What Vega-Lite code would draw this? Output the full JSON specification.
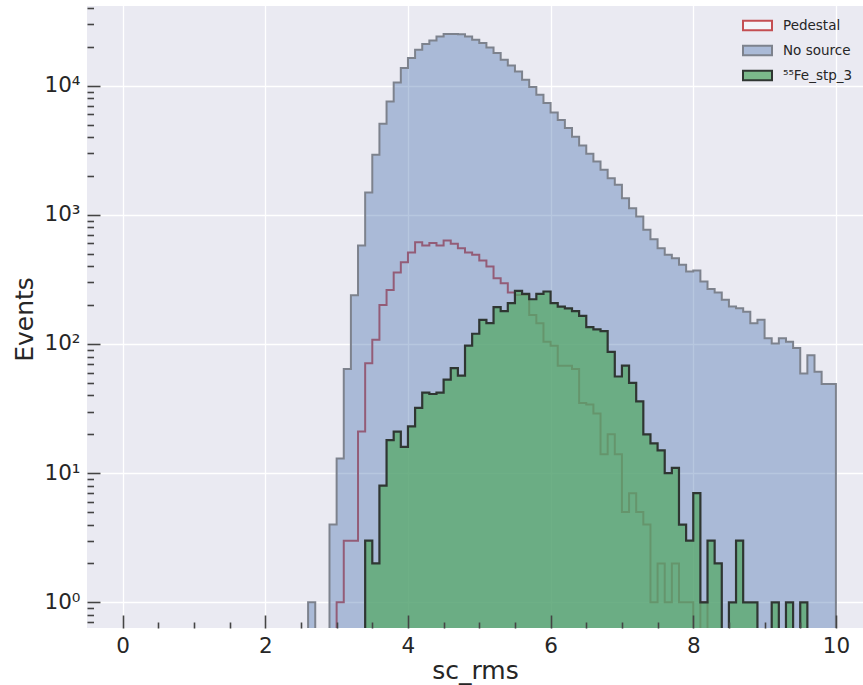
{
  "$schema": "https://vega.github.io/schema/vega-lite/v6.json",
  "width": 776,
  "height": 622,
  "autosize": "none",
  "padding": {"left": 87, "top": 6, "right": 0, "bottom": 57},
  "background": "white",
  "config": {"font": "DejaVu Sans", "view": {"fill": "#EAEAF2", "stroke": null}},
  "datasets": {
    "h": [
      {"s":"No source","x":2.5,"n":0},{"s":"No source","x":2.6,"n":1},{"s":"No source","x":2.7,"n":0},{"s":"No source","x":2.8,"n":0},{"s":"No source","x":2.9,"n":4},{"s":"No source","x":3.0,"n":13},{"s":"No source","x":3.1,"n":64},{"s":"No source","x":3.2,"n":239},{"s":"No source","x":3.3,"n":580},{"s":"No source","x":3.4,"n":1489},{"s":"No source","x":3.5,"n":2917},{"s":"No source","x":3.6,"n":5070},{"s":"No source","x":3.7,"n":7550},{"s":"No source","x":3.8,"n":10590},{"s":"No source","x":3.9,"n":13680},{"s":"No source","x":4.0,"n":16360},{"s":"No source","x":4.1,"n":18970},{"s":"No source","x":4.2,"n":21000},{"s":"No source","x":4.3,"n":22390},{"s":"No source","x":4.4,"n":24050},{"s":"No source","x":4.5,"n":25100},{"s":"No source","x":4.6,"n":25150},{"s":"No source","x":4.7,"n":25050},{"s":"No source","x":4.8,"n":24050},{"s":"No source","x":4.9,"n":22680},{"s":"No source","x":5.0,"n":21380},{"s":"No source","x":5.1,"n":19770},{"s":"No source","x":5.2,"n":17900},{"s":"No source","x":5.3,"n":15880},{"s":"No source","x":5.4,"n":14330},{"s":"No source","x":5.5,"n":12880},{"s":"No source","x":5.6,"n":11110},{"s":"No source","x":5.7,"n":9750},{"s":"No source","x":5.8,"n":8510},{"s":"No source","x":5.9,"n":7330},{"s":"No source","x":6.0,"n":6200},{"s":"No source","x":6.1,"n":5420},{"s":"No source","x":6.2,"n":4700},{"s":"No source","x":6.3,"n":4020},{"s":"No source","x":6.4,"n":3440},{"s":"No source","x":6.5,"n":2970},{"s":"No source","x":6.6,"n":2590},{"s":"No source","x":6.7,"n":2230},{"s":"No source","x":6.8,"n":1924},{"s":"No source","x":6.9,"n":1708},{"s":"No source","x":7.0,"n":1347},{"s":"No source","x":7.1,"n":1127},{"s":"No source","x":7.2,"n":970},{"s":"No source","x":7.3,"n":765},{"s":"No source","x":7.4,"n":648},{"s":"No source","x":7.5,"n":552},{"s":"No source","x":7.6,"n":490},{"s":"No source","x":7.7,"n":462},{"s":"No source","x":7.8,"n":410},{"s":"No source","x":7.9,"n":364},{"s":"No source","x":8.0,"n":371},{"s":"No source","x":8.1,"n":305},{"s":"No source","x":8.2,"n":266},{"s":"No source","x":8.3,"n":250},{"s":"No source","x":8.4,"n":220},{"s":"No source","x":8.5,"n":195},{"s":"No source","x":8.6,"n":189},{"s":"No source","x":8.7,"n":178},{"s":"No source","x":8.8,"n":145},{"s":"No source","x":8.9,"n":154},{"s":"No source","x":9.0,"n":111},{"s":"No source","x":9.1,"n":101},{"s":"No source","x":9.2,"n":111},{"s":"No source","x":9.3,"n":104},{"s":"No source","x":9.4,"n":93},{"s":"No source","x":9.5,"n":59},{"s":"No source","x":9.6,"n":82},{"s":"No source","x":9.7,"n":61},{"s":"No source","x":9.8,"n":49},{"s":"No source","x":9.9,"n":49},{"s":"No source","x":10.0,"n":0},
      {"s":"Pedestal","x":2.9,"n":0},{"s":"Pedestal","x":3.0,"n":1},{"s":"Pedestal","x":3.1,"n":3},{"s":"Pedestal","x":3.2,"n":3},{"s":"Pedestal","x":3.3,"n":21},{"s":"Pedestal","x":3.4,"n":71},{"s":"Pedestal","x":3.5,"n":108},{"s":"Pedestal","x":3.6,"n":200},{"s":"Pedestal","x":3.7,"n":262},{"s":"Pedestal","x":3.8,"n":357},{"s":"Pedestal","x":3.9,"n":430},{"s":"Pedestal","x":4.0,"n":511},{"s":"Pedestal","x":4.1,"n":614},{"s":"Pedestal","x":4.2,"n":578},{"s":"Pedestal","x":4.3,"n":604},{"s":"Pedestal","x":4.4,"n":578},{"s":"Pedestal","x":4.5,"n":632},{"s":"Pedestal","x":4.6,"n":596},{"s":"Pedestal","x":4.7,"n":552},{"s":"Pedestal","x":4.8,"n":511},{"s":"Pedestal","x":4.9,"n":490},{"s":"Pedestal","x":5.0,"n":443},{"s":"Pedestal","x":5.1,"n":398},{"s":"Pedestal","x":5.2,"n":323},{"s":"Pedestal","x":5.3,"n":296},{"s":"Pedestal","x":5.4,"n":250},{"s":"Pedestal","x":5.5,"n":240},{"s":"Pedestal","x":5.6,"n":240},{"s":"Pedestal","x":5.7,"n":168},{"s":"Pedestal","x":5.8,"n":145},{"s":"Pedestal","x":5.9,"n":104},{"s":"Pedestal","x":6.0,"n":97},{"s":"Pedestal","x":6.1,"n":68},{"s":"Pedestal","x":6.2,"n":68},{"s":"Pedestal","x":6.3,"n":64},{"s":"Pedestal","x":6.4,"n":35},{"s":"Pedestal","x":6.5,"n":34},{"s":"Pedestal","x":6.6,"n":29},{"s":"Pedestal","x":6.7,"n":14},{"s":"Pedestal","x":6.8,"n":20},{"s":"Pedestal","x":6.9,"n":14},{"s":"Pedestal","x":7.0,"n":5},{"s":"Pedestal","x":7.1,"n":7},{"s":"Pedestal","x":7.2,"n":5},{"s":"Pedestal","x":7.3,"n":4},{"s":"Pedestal","x":7.4,"n":1},{"s":"Pedestal","x":7.5,"n":2},{"s":"Pedestal","x":7.6,"n":1},{"s":"Pedestal","x":7.7,"n":2},{"s":"Pedestal","x":7.8,"n":1},{"s":"Pedestal","x":7.9,"n":1},{"s":"Pedestal","x":8.0,"n":0},{"s":"Pedestal","x":8.1,"n":1},{"s":"Pedestal","x":8.2,"n":0},
      {"s":"⁵⁵Fe_stp_3","x":3.3,"n":0},{"s":"⁵⁵Fe_stp_3","x":3.4,"n":3},{"s":"⁵⁵Fe_stp_3","x":3.5,"n":2},{"s":"⁵⁵Fe_stp_3","x":3.6,"n":8},{"s":"⁵⁵Fe_stp_3","x":3.7,"n":18},{"s":"⁵⁵Fe_stp_3","x":3.8,"n":21},{"s":"⁵⁵Fe_stp_3","x":3.9,"n":16},{"s":"⁵⁵Fe_stp_3","x":4.0,"n":23},{"s":"⁵⁵Fe_stp_3","x":4.1,"n":32},{"s":"⁵⁵Fe_stp_3","x":4.2,"n":42},{"s":"⁵⁵Fe_stp_3","x":4.3,"n":41},{"s":"⁵⁵Fe_stp_3","x":4.4,"n":42},{"s":"⁵⁵Fe_stp_3","x":4.5,"n":53},{"s":"⁵⁵Fe_stp_3","x":4.6,"n":65},{"s":"⁵⁵Fe_stp_3","x":4.7,"n":57},{"s":"⁵⁵Fe_stp_3","x":4.8,"n":97},{"s":"⁵⁵Fe_stp_3","x":4.9,"n":120},{"s":"⁵⁵Fe_stp_3","x":5.0,"n":154},{"s":"⁵⁵Fe_stp_3","x":5.1,"n":145},{"s":"⁵⁵Fe_stp_3","x":5.2,"n":193},{"s":"⁵⁵Fe_stp_3","x":5.3,"n":180},{"s":"⁵⁵Fe_stp_3","x":5.4,"n":207},{"s":"⁵⁵Fe_stp_3","x":5.5,"n":258},{"s":"⁵⁵Fe_stp_3","x":5.6,"n":244},{"s":"⁵⁵Fe_stp_3","x":5.7,"n":222},{"s":"⁵⁵Fe_stp_3","x":5.8,"n":244},{"s":"⁵⁵Fe_stp_3","x":5.9,"n":255},{"s":"⁵⁵Fe_stp_3","x":6.0,"n":207},{"s":"⁵⁵Fe_stp_3","x":6.1,"n":195},{"s":"⁵⁵Fe_stp_3","x":6.2,"n":189},{"s":"⁵⁵Fe_stp_3","x":6.3,"n":180},{"s":"⁵⁵Fe_stp_3","x":6.4,"n":165},{"s":"⁵⁵Fe_stp_3","x":6.5,"n":135},{"s":"⁵⁵Fe_stp_3","x":6.6,"n":130},{"s":"⁵⁵Fe_stp_3","x":6.7,"n":126},{"s":"⁵⁵Fe_stp_3","x":6.8,"n":87},{"s":"⁵⁵Fe_stp_3","x":6.9,"n":56},{"s":"⁵⁵Fe_stp_3","x":7.0,"n":68},{"s":"⁵⁵Fe_stp_3","x":7.1,"n":50},{"s":"⁵⁵Fe_stp_3","x":7.2,"n":36},{"s":"⁵⁵Fe_stp_3","x":7.3,"n":20},{"s":"⁵⁵Fe_stp_3","x":7.4,"n":17},{"s":"⁵⁵Fe_stp_3","x":7.5,"n":15},{"s":"⁵⁵Fe_stp_3","x":7.6,"n":10},{"s":"⁵⁵Fe_stp_3","x":7.7,"n":11},{"s":"⁵⁵Fe_stp_3","x":7.8,"n":4},{"s":"⁵⁵Fe_stp_3","x":7.9,"n":3},{"s":"⁵⁵Fe_stp_3","x":8.0,"n":7},{"s":"⁵⁵Fe_stp_3","x":8.1,"n":1},{"s":"⁵⁵Fe_stp_3","x":8.2,"n":3},{"s":"⁵⁵Fe_stp_3","x":8.3,"n":2},{"s":"⁵⁵Fe_stp_3","x":8.4,"n":0},{"s":"⁵⁵Fe_stp_3","x":8.5,"n":1},{"s":"⁵⁵Fe_stp_3","x":8.6,"n":3},{"s":"⁵⁵Fe_stp_3","x":8.7,"n":1},{"s":"⁵⁵Fe_stp_3","x":8.8,"n":1},{"s":"⁵⁵Fe_stp_3","x":8.9,"n":0},{"s":"⁵⁵Fe_stp_3","x":9.0,"n":0},{"s":"⁵⁵Fe_stp_3","x":9.1,"n":1},{"s":"⁵⁵Fe_stp_3","x":9.2,"n":0},{"s":"⁵⁵Fe_stp_3","x":9.3,"n":1},{"s":"⁵⁵Fe_stp_3","x":9.4,"n":0},{"s":"⁵⁵Fe_stp_3","x":9.5,"n":1},{"s":"⁵⁵Fe_stp_3","x":9.6,"n":0}
    ]
  },
  "data": {"name": "h"},
  "layer": [
    {
      "transform": [{"filter": {"field": "s", "equal": "Pedestal"}}],
      "mark": {"type": "line", "interpolate": "step-after", "strokeWidth": 2, "clip": true},
      "encoding": {
        "x": {"field": "x", "type": "quantitative", "scale": {"domain": [-0.5, 10.38], "nice": false, "zero": false},
              "axis": {"orient": "bottom", "grid": true, "values": [0, 2, 4, 6, 8, 10], "gridColor": "#ffffff", "gridWidth": 1.3, "gridOpacity": 1, "ticks": false, "labels": false, "domain": false, "title": null, "zindex": 0}},
        "y": {"field": "n", "type": "quantitative", "scale": {"type": "log", "domain": [0.589, 41400], "range": [626, 0], "clamp": true, "nice": false},
              "axis": {"orient": "left", "grid": true, "values": [1, 10, 100, 1000, 10000], "gridColor": "#ffffff", "gridWidth": 1.3, "gridOpacity": 1, "ticks": false, "labels": false, "domain": false, "title": null, "zindex": 0}},
        "stroke": {"field": "s", "type": "nominal",
                   "scale": {"domain": ["Pedestal", "No source", "⁵⁵Fe_stp_3"], "range": ["#C44E52", "#7d828d", "#2f3632"]},
                   "legend": {"title": null, "orient": "none", "legendX": 655, "legendY": 4, "padding": 0,
                              "symbolType": "M-1,-0.33H1V0.33H-1Z", "symbolSize": 841, "symbolStrokeWidth": 2,
                              "labelFont": "DejaVu Sans", "labelFontSize": 13.5, "labelColor": "#262626", "labelOffset": 10, "rowPadding": -9}}
      }
    },
    {
      "transform": [{"filter": {"field": "s", "equal": "No source"}}],
      "mark": {"type": "area", "interpolate": "step-after", "fillOpacity": 0.4, "strokeWidth": 2, "clip": true},
      "encoding": {
        "x": {"field": "x", "type": "quantitative", "scale": {"domain": [-0.5, 10.38], "nice": false, "zero": false}, "axis": null},
        "y": {"field": "n", "type": "quantitative", "scale": {"type": "log", "domain": [0.589, 41400], "range": [626, 0], "clamp": true, "nice": false}, "axis": null},
        "y2": {"datum": 0},
        "fill": {"field": "s", "type": "nominal",
                 "scale": {"domain": ["Pedestal", "No source", "⁵⁵Fe_stp_3"], "range": ["#f4f4f8", "#4C72B0", "#55A868"]},
                 "legend": {"title": null, "orient": "none", "legendX": 655, "legendY": 4, "padding": 0,
                            "symbolType": "M-1,-0.33H1V0.33H-1Z", "symbolSize": 841, "symbolStrokeWidth": 2,
                            "labelFont": "DejaVu Sans", "labelFontSize": 13.5, "labelColor": "#262626", "labelOffset": 10, "rowPadding": -9,
                            "encode": {"symbols": {"update": {"fillOpacity": {"signal": "datum.value === 'No source' ? 0.4 : datum.value === 'Pedestal' ? 1 : 0.75"}}}}}},
        "stroke": {"field": "s", "type": "nominal"}
      }
    },
    {
      "transform": [{"filter": {"field": "s", "equal": "⁵⁵Fe_stp_3"}}],
      "mark": {"type": "area", "interpolate": "step-after", "fillOpacity": 0.75, "strokeWidth": 2.2, "clip": true},
      "encoding": {
        "x": {"field": "x", "type": "quantitative", "scale": {"domain": [-0.5, 10.38], "nice": false, "zero": false},
              "axis": {"orient": "bottom", "grid": false, "domain": false,
                       "values": [0, 0.5, 1, 1.5, 2, 2.5, 3, 3.5, 4, 4.5, 5, 5.5, 6, 6.5, 7, 7.5, 8, 8.5, 9, 9.5, 10],
                       "tickSize": {"condition": {"test": "datum.value % 2 === 0", "value": -13}, "value": -6},
                       "tickColor": "#444444", "tickWidth": 1.6,
                       "labelExpr": "datum.value % 2 === 0 ? format(datum.value, 'd') : ''",
                       "labelFont": "DejaVu Sans", "labelFontSize": 21.5, "labelColor": "#262626", "labelPadding": 20,
                       "labelOverlap": false, "labelFlush": false, "labelBound": false,
                       "title": "sc_rms", "titleFont": "DejaVu Sans", "titleFontSize": 25, "titleFontWeight": "normal", "titleColor": "#262626", "titlePadding": -5, "zindex": 1}},
        "y": {"field": "n", "type": "quantitative", "scale": {"type": "log", "domain": [0.589, 41400], "range": [626, 0], "clamp": true, "nice": false},
              "axis": {"orient": "left", "grid": false, "domain": false,
                       "values": [0.7, 0.8, 0.9, 1, 2, 3, 4, 5, 6, 7, 8, 9, 10, 20, 30, 40, 50, 60, 70, 80, 90, 100, 200, 300, 400, 500, 600, 700, 800, 900, 1000, 2000, 3000, 4000, 5000, 6000, 7000, 8000, 9000, 10000, 20000, 30000, 40000],
                       "tickSize": {"condition": {"test": "abs(log(datum.value)/LN10 - round(log(datum.value)/LN10)) < 0.001", "value": -13}, "value": -6.5},
                       "tickColor": "#444444", "tickWidth": 1.6,
                       "labelExpr": "abs(log(datum.value)/LN10 - round(log(datum.value)/LN10)) < 0.001 ? '10' + ['⁰','¹','²','³','⁴'][round(log(datum.value)/LN10)] : ''",
                       "labelFont": "DejaVu Sans", "labelFontSize": 21.5, "labelColor": "#262626", "labelPadding": 20,
                       "labelOverlap": false, "labelFlush": false, "labelBound": false,
                       "title": "Events", "titleFont": "DejaVu Sans", "titleFontSize": 25, "titleFontWeight": "normal", "titleColor": "#262626", "titlePadding": 7, "zindex": 1}},
        "y2": {"datum": 0},
        "fill": {"field": "s", "type": "nominal"},
        "stroke": {"field": "s", "type": "nominal"}
      }
    }
  ],
  "resolve": {"axis": {"x": "independent", "y": "independent"}}
}
